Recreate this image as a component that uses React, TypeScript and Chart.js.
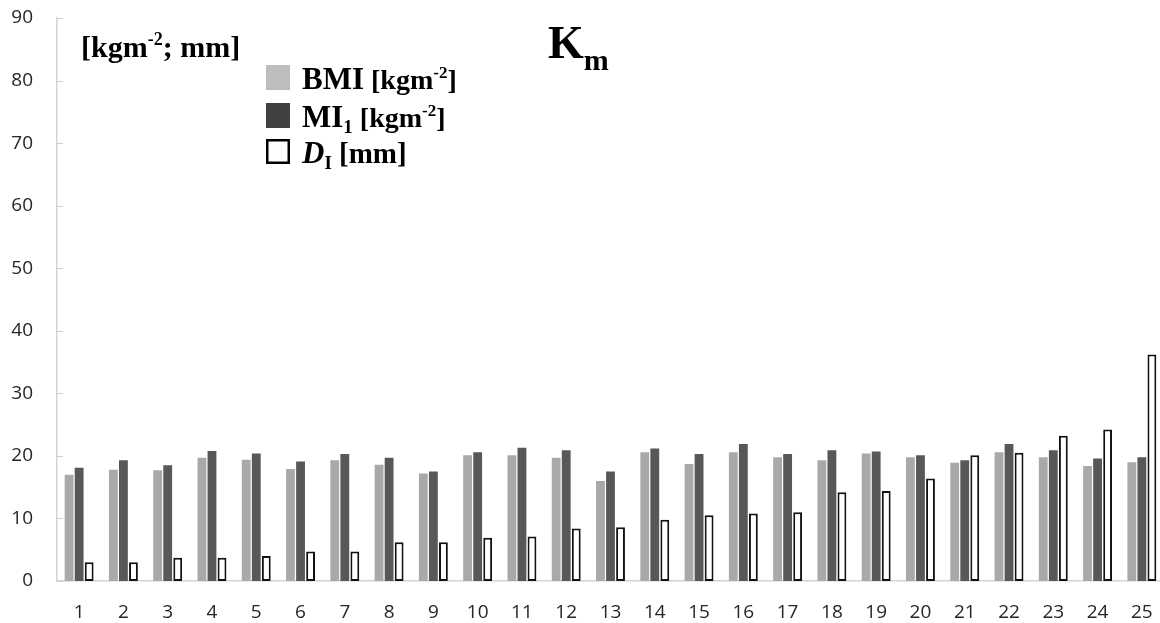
import React, { useEffect, useRef } from "react";
import { Chart, registerables } from "chart.js";

Chart.register(...registerables);

const categories = ["1","2","3","4","5","6","7","8","9","10","11","12","13","14","15","16","17","18","19","20","21","22","23","24","25"];
const bmiValues = [17.0,17.8,17.7,19.7,19.4,17.9,19.3,18.6,17.2,20.1,20.1,19.7,16.0,20.6,18.7,20.6,19.8,19.3,20.4,19.8,18.9,20.6,19.8,18.4,19.0];
const mi1Values = [18.1,19.3,18.5,20.8,20.4,19.1,20.3,19.7,17.5,20.6,21.3,20.9,17.5,21.2,20.3,21.9,20.3,20.9,20.7,20.1,19.3,21.9,20.9,19.6,19.8];
const diValues = [3.0,3.0,3.7,3.7,4.0,4.7,4.7,6.2,6.2,6.9,7.1,8.4,8.6,9.8,10.5,10.8,11.0,14.2,14.4,16.4,20.1,20.5,23.2,24.2,36.2];
const yTicks = [0,10,20,30,40,50,60,70,80,90];

const SERIF = "'Liberation Serif', 'Times New Roman', serif";
const SANS = "'Open Sans', sans-serif";

type Run = { text: string; font: string; dy?: number };

function drawRuns(ctx: CanvasRenderingContext2D, x: number, y: number, runs: Run[]) {
  let cx = x;
  for (const r of runs) {
    ctx.font = r.font;
    ctx.fillText(r.text, cx, y + (r.dy || 0));
    cx += ctx.measureText(r.text).width;
  }
}

const overlayPlugin = {
  id: "overlay",
  afterDraw(chart: any) {
    const ctx: CanvasRenderingContext2D = chart.ctx;
    const yScale = chart.scales.y;
    const left = chart.chartArea.left;
    ctx.save();
    ctx.strokeStyle = "#d0d0d0";
    ctx.lineWidth = 1;
    for (const t of yTicks) {
      const py = Math.round(yScale.getPixelForValue(t)) + 0.5;
      ctx.beginPath();
      ctx.moveTo(left, py);
      ctx.lineTo(left + 6, py);
      ctx.stroke();
    }
    ctx.fillStyle = "#000";
    ctx.textBaseline = "alphabetic";
    ctx.textAlign = "left";
    drawRuns(ctx, 81, 57, [
      { text: "[kgm", font: `bold 30px ${SERIF}` },
      { text: "-2", font: `bold 18px ${SERIF}`, dy: -12 },
      { text: "; mm]", font: `bold 30px ${SERIF}` },
    ]);
    drawRuns(ctx, 548, 58, [
      { text: "K", font: `bold 46px ${SERIF}` },
      { text: "m", font: `bold 30px ${SERIF}`, dy: 12 },
    ]);
    ctx.fillStyle = "#bdbdbd";
    ctx.fillRect(266, 65, 24, 25);
    ctx.fillStyle = "#404040";
    ctx.fillRect(266, 103, 24, 25);
    ctx.strokeStyle = "#000";
    ctx.lineWidth = 2.5;
    ctx.strokeRect(267.25, 140.25, 21.5, 22.5);
    ctx.fillStyle = "#000";
    drawRuns(ctx, 302, 89, [
      { text: "BMI", font: `bold 31px ${SERIF}` },
      { text: " [kgm", font: `bold 28px ${SERIF}` },
      { text: "-2", font: `bold 17px ${SERIF}`, dy: -11 },
      { text: "]", font: `bold 28px ${SERIF}` },
    ]);
    drawRuns(ctx, 302, 127, [
      { text: "MI", font: `bold 31px ${SERIF}` },
      { text: "1", font: `bold 19px ${SERIF}`, dy: 6 },
      { text: " [kgm", font: `bold 28px ${SERIF}` },
      { text: "-2", font: `bold 17px ${SERIF}`, dy: -11 },
      { text: "]", font: `bold 28px ${SERIF}` },
    ]);
    drawRuns(ctx, 302, 163, [
      { text: "D", font: `italic bold 31px ${SERIF}` },
      { text: "I", font: `bold 19px ${SERIF}`, dy: 6 },
      { text: " [mm]", font: `bold 29px ${SERIF}` },
    ]);
    ctx.restore();
  },
};

export default function App() {
  const ref = useRef<HTMLCanvasElement | null>(null);
  useEffect(() => {
    if (!ref.current) return;
    const chart = new Chart(ref.current, {
      type: "bar",
      data: {
        labels: categories,
        datasets: [
          { label: "BMI [kgm-2]", data: bmiValues, backgroundColor: "#a9a9a9", borderWidth: 0 },
          { label: "MI1 [kgm-2]", data: mi1Values, backgroundColor: "#585858", borderWidth: 0 },
          { label: "DI [mm]", data: diValues, backgroundColor: "#ffffff", borderColor: "#111111", borderWidth: 2, borderSkipped: false },
        ],
      },
      options: {
        responsive: false,
        animation: false,
        devicePixelRatio: 1,
        layout: { padding: { top: 18, left: 0, right: 0, bottom: 0 } },
        datasets: { bar: { categoryPercentage: 0.68, barPercentage: 0.88 } },
        plugins: { legend: { display: false }, tooltip: { enabled: false }, title: { display: false } },
        scales: {
          x: {
            grid: { display: false },
            border: { display: true, color: "#d4d4d4", width: 1.5 },
            ticks: { color: "#262626", font: { family: SANS, size: 19 }, padding: 12, maxRotation: 0, autoSkip: false },
            afterFit: (s: any) => { s.height = 42; s.paddingLeft = 0; s.paddingRight = 0; },
          },
          y: {
            min: 0,
            max: 90,
            grid: { display: false },
            border: { display: true, color: "#d4d4d4", width: 1.5 },
            ticks: { stepSize: 10, color: "#262626", font: { family: SANS, size: 19 }, padding: 16 },
            afterBuildTicks: (s: any) => { s.ticks = yTicks.map((v) => ({ value: v })); },
            afterFit: (s: any) => { s.width = 57; s.paddingTop = 0; s.paddingBottom = 0; },
          },
        },
      },
      plugins: [overlayPlugin],
    });
    return () => chart.destroy();
  }, []);
  return (
    <div style={{ position: "fixed", left: 0, top: 0, width: 1160, height: 623, overflow: "hidden", background: "#fff" }}>
      <canvas ref={ref} width={1164} height={623} style={{ display: "block" }} />
    </div>
  );
}
